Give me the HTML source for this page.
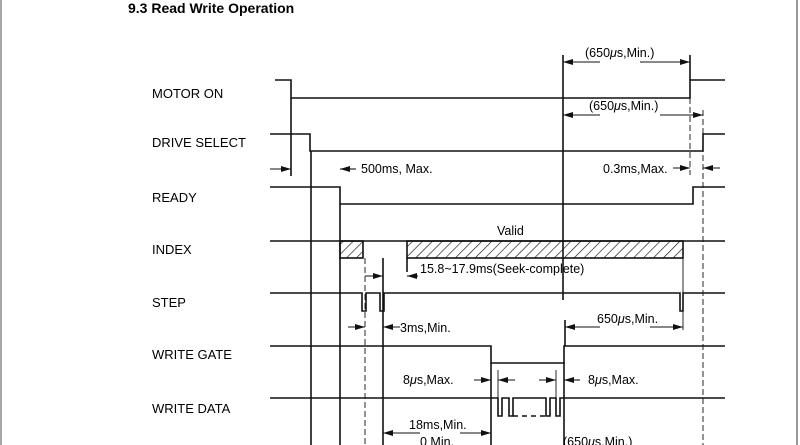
<!DOCTYPE html>
<html><head><meta charset="utf-8"><style>
html,body{margin:0;padding:0;background:#fff;}
svg{display:block;}
text{font-family:"Liberation Sans",Arial,sans-serif;fill:#000;}
</style></head><body>
<svg width="800" height="445" viewBox="0 0 800 445" xmlns="http://www.w3.org/2000/svg">
<defs>
<pattern id="h" width="7" height="7" patternUnits="userSpaceOnUse" patternTransform="rotate(45)">
<line x1="0" y1="0" x2="0" y2="7" stroke="#111" stroke-width="1.3"/>
</pattern>
<marker id="a" markerWidth="10" markerHeight="6" refX="10" refY="3" orient="auto" markerUnits="userSpaceOnUse">
<path d="M0,0 L10,3 L0,6 z" fill="#111"/>
</marker>
</defs>
<line x1="1" y1="0" x2="1" y2="445" stroke="#888" stroke-width="1.5"/>
<line x1="797" y1="0" x2="797" y2="445" stroke="#999" stroke-width="2"/>
<text x="128" y="13" font-size="14" font-weight="bold">9.3  Read Write Operation</text>
<g font-size="13">
<text x="152" y="98">MOTOR ON</text>
<text x="152" y="147">DRIVE SELECT</text>
<text x="152" y="202">READY</text>
<text x="152" y="254">INDEX</text>
<text x="152" y="307">STEP</text>
<text x="152" y="359">WRITE GATE</text>
<text x="152" y="413">WRITE DATA</text>
</g>
<g stroke="#111" stroke-width="1.6" fill="none">
<polyline points="275,80 291,80 291,98 690,98 690,80 725,80"/>
<polyline points="270,134 310,134 310,151 703,151 703,134 725,134"/>
<polyline points="270,187 340,187 340,204 693,204 693,187 725,187"/>
<line x1="270" y1="241" x2="725" y2="241"/>
<polyline points="270,293 362,293 362,311 366,311 366,293 380,293 380,311 384,311 384,293 680,293 680,311 683,311 683,293 725,293"/>
<polyline points="270,346 491,346 491,363 564,363 564,346 725,346"/>
<polyline points="270,398 498,398 498,416 502,416 502,398 509,398 509,416 513,416 513,398 546,398 546,416 550,416 550,398 556,398 556,416 560,416 560,398 725,398"/>
<line x1="513" y1="416" x2="546" y2="416" stroke-dasharray="5,4"/>
<line x1="291" y1="98" x2="291" y2="176"/>
<line x1="311" y1="151" x2="311" y2="445"/>
<line x1="340" y1="204" x2="340" y2="445"/>
<line x1="365" y1="258" x2="365" y2="445" stroke-width="0.9" stroke-dasharray="6,3"/>
<line x1="383" y1="258" x2="383" y2="445"/>
<line x1="407" y1="258" x2="407" y2="272"/>
<line x1="563" y1="55" x2="563" y2="300"/>
<line x1="565" y1="320" x2="565" y2="346"/>
<line x1="564" y1="363" x2="564" y2="445"/>
<line x1="491" y1="363" x2="491" y2="445"/>
<line x1="498" y1="370" x2="498" y2="398" stroke-width="0.9"/>
<line x1="556" y1="370" x2="556" y2="398" stroke-width="0.9"/>
<line x1="690" y1="55" x2="690" y2="80"/>
<line x1="690" y1="98" x2="690" y2="175" stroke-width="0.9" stroke-dasharray="6,3"/>
<line x1="703" y1="110" x2="703" y2="445" stroke-width="0.9" stroke-dasharray="6,3"/>
<line x1="683" y1="258" x2="683" y2="330" stroke-width="0.9"/>
<rect x="340" y="241" width="23" height="17" fill="url(#h)"/>
<rect x="407" y="241" width="276" height="17" fill="url(#h)"/>
<g stroke-width="1.1">
<line x1="600" y1="62" x2="563" y2="62" marker-end="url(#a)"/>
<line x1="640" y1="62" x2="690" y2="62" marker-end="url(#a)"/>
<line x1="600" y1="115" x2="563" y2="115" marker-end="url(#a)"/>
<line x1="660" y1="115" x2="703" y2="115" marker-end="url(#a)"/>
<line x1="270" y1="169" x2="291" y2="169" marker-end="url(#a)"/>
<line x1="356" y1="169" x2="340" y2="169" marker-end="url(#a)"/>
<line x1="673" y1="168" x2="690" y2="168" marker-end="url(#a)"/>
<line x1="720" y1="168" x2="703" y2="168" marker-end="url(#a)"/>
<line x1="365" y1="276" x2="383" y2="276" marker-end="url(#a)"/>
<line x1="418" y1="276" x2="407" y2="276" marker-end="url(#a)"/>
<line x1="348" y1="327" x2="365" y2="327" marker-end="url(#a)"/>
<line x1="400" y1="327" x2="383" y2="327" marker-end="url(#a)"/>
<line x1="600" y1="327" x2="565" y2="327" marker-end="url(#a)"/>
<line x1="650" y1="327" x2="683" y2="327" marker-end="url(#a)"/>
<line x1="474" y1="380" x2="491" y2="380" marker-end="url(#a)"/>
<line x1="515" y1="380" x2="498" y2="380" marker-end="url(#a)"/>
<line x1="539" y1="380" x2="556" y2="380" marker-end="url(#a)"/>
<line x1="580" y1="380" x2="564" y2="380" marker-end="url(#a)"/>
<line x1="420" y1="433" x2="383" y2="433" marker-end="url(#a)"/>
<line x1="460" y1="433" x2="491" y2="433" marker-end="url(#a)"/>
</g>
</g>
<g font-size="12.5">
<text x="585" y="57">(650<tspan font-style="italic">μ</tspan>s,Min.)</text>
<text x="589" y="110">(650<tspan font-style="italic">μ</tspan>s,Min.)</text>
<text x="361" y="173">500ms, Max.</text>
<text x="603" y="173">0.3ms,Max.</text>
<text x="497" y="235">Valid</text>
<text x="420" y="273">15.8~17.9ms(Seek-complete)</text>
<text x="400" y="332">3ms,Min.</text>
<text x="597" y="323">650<tspan font-style="italic">μ</tspan>s,Min.</text>
<text x="403" y="384">8<tspan font-style="italic">μ</tspan>s,Max.</text>
<text x="588" y="384">8<tspan font-style="italic">μ</tspan>s,Max.</text>
<text x="409" y="429">18ms,Min.</text>
<text x="420" y="446">0 Min.</text>
<text x="563" y="446">(650<tspan font-style="italic">μ</tspan>s,Min.)</text>
</g>
</svg>
</body></html>
